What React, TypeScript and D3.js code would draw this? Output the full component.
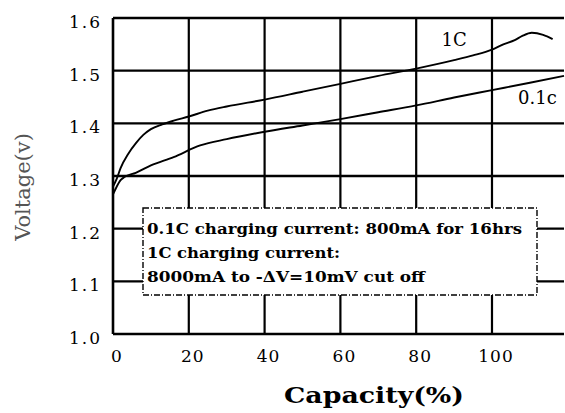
import React from "react";
import * as d3 from "d3";

const capacity1C = [0, 1, 2, 4, 6, 8, 10, 13, 16, 20, 25, 30, 40, 50, 60, 70, 80, 90, 95, 100, 103, 106, 108, 110.5, 113.5, 116];
const volt1C = [1.28, 1.295, 1.315, 1.342, 1.362, 1.378, 1.389, 1.398, 1.405, 1.413, 1.424, 1.432, 1.445, 1.46, 1.475, 1.49, 1.504, 1.52, 1.529, 1.54, 1.55, 1.558, 1.566, 1.572, 1.568, 1.56];

const capacity01C = [0, 1, 2, 3, 6, 10, 16, 23, 30, 40, 50, 60, 70, 80, 90, 100, 110, 119];
const volt01C = [1.265, 1.28, 1.292, 1.298, 1.306, 1.32, 1.336, 1.358, 1.37, 1.384, 1.396, 1.408, 1.421, 1.434, 1.449, 1.463, 1.477, 1.49];

const yTicks = [1.0, 1.1, 1.2, 1.3, 1.4, 1.5, 1.6];
const xTicks = [0, 20, 40, 60, 80, 100];
const noteLines = [
  "0.1C charging current: 800mA for 16hrs",
  "1C charging current:",
  "8000mA to -\u0394V=10mV cut off",
];
const noteWidths = [375, 193, 278];

const W = 565;
const H = 413;
const FONT = "'DejaVu Serif', 'Liberation Serif', serif";

export default function App() {
  const x = d3.scaleLinear().domain([0, 119]).range([113, 564]);
  const y = d3.scaleLinear().domain([1.0, 1.6]).range([334, 18]);

  const line = d3
    .line<[number, number]>()
    .x((d) => x(d[0]))
    .y((d) => y(d[1]))
    .curve(d3.curveMonotoneX);

  const s1 = capacity1C.map((c, i) => [c, volt1C[i]] as [number, number]);
  const s2 = capacity01C.map((c, i) => [c, volt01C[i]] as [number, number]);

  const box = { x0: 143, x1: 537, y0: 208, y1: 295 };

  return (
    <svg
      width={W}
      height={H}
      style={{ position: "absolute", left: 0, top: 0, background: "#fff" }}
    >
      {/* horizontal grid */}
      {yTicks.map((t) => (
        <line
          key={"h" + t}
          x1={x(0)}
          x2={x(119)}
          y1={y(t)}
          y2={y(t)}
          stroke="#000"
          strokeWidth={2.4}
        />
      ))}
      {/* vertical grid */}
      {xTicks.map((t) => (
        <line
          key={"v" + t}
          x1={x(t)}
          x2={x(t)}
          y1={y(1.0)}
          y2={y(1.6)}
          stroke="#000"
          strokeWidth={t === 0 ? 2.6 : 2.2}
        />
      ))}

      {/* curves */}
      <path d={line(s1) || ""} fill="none" stroke="#000" strokeWidth={1.9} />
      <path d={line(s2) || ""} fill="none" stroke="#000" strokeWidth={1.9} />

      {/* note box */}
      <rect
        x={box.x0}
        y={box.y0}
        width={box.x1 - box.x0}
        height={box.y1 - box.y0}
        fill="#fff"
        stroke="#000"
        strokeWidth={1.4}
        strokeDasharray="6 2 1 2"
      />
      {noteLines.map((s, i) => (
        <text
          key={i}
          x={box.x0 + 4}
          y={box.y0 + 26 + i * 24}
          fontFamily={FONT}
          fontSize={15}
          fontWeight="bold"
          textLength={noteWidths[i]}
          lengthAdjust="spacingAndGlyphs"
        >
          {s}
        </text>
      ))}

      {/* curve labels */}
      <text x={x(90)} y={y(1.6) + 28} fontFamily={FONT} fontSize={18} textAnchor="middle">
        1C
      </text>
      <text x={x(112)} y={y(1.5) + 33} fontFamily={FONT} fontSize={18} textAnchor="middle">
        0.1c
      </text>

      {/* y tick labels */}
      {yTicks.map((t) => (
        <text
          key={"yl" + t}
          x={102}
          y={y(t) + 10}
          fontFamily={FONT}
          fontSize={17}
          letterSpacing={2}
          textAnchor="end"
        >
          {t.toFixed(1)}
        </text>
      ))}
      {/* x tick labels */}
      {xTicks.map((t) => (
        <text
          key={"xl" + t}
          x={x(t) + 4}
          y={y(1.0) + 28}
          fontFamily={FONT}
          fontSize={17}
          letterSpacing={1}
          textAnchor="middle"
        >
          {t}
        </text>
      ))}

      {/* axis titles */}
      <text
        transform={`translate(30, 187) rotate(-90)`}
        fontFamily={FONT}
        fontSize={21}
        fill="#555"
        textAnchor="middle"
      >
        Voltage(v)
      </text>
      <text
        x={374}
        y={403}
        fontFamily={FONT}
        fontSize={22}
        fontWeight="bold"
        textAnchor="middle"
        textLength={180}
        lengthAdjust="spacingAndGlyphs"
      >
        Capacity(%)
      </text>
    </svg>
  );
}
